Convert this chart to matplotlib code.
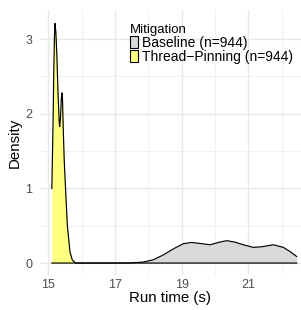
import matplotlib
matplotlib.use("Agg")
import matplotlib.pyplot as plt
from matplotlib.patches import Patch
import numpy as np

plt.rcParams['font.family'] = ['Liberation Sans', 'DejaVu Sans']

# density curves (run time in s, density)
pin_x = [15.10, 15.13, 15.16, 15.18, 15.195, 15.22, 15.25, 15.285, 15.32, 15.336,
         15.36, 15.385, 15.405, 15.42, 15.445, 15.47, 15.50, 15.565, 15.645,
         15.715, 15.82, 22.45]
pin_y = [1.00, 1.70, 2.60, 3.05, 3.21, 3.10, 2.80, 2.30, 1.90, 1.83,
         1.95, 2.20, 2.28, 2.20, 1.78, 1.40, 1.11, 0.51, 0.15,
         0.04, 0.00, 0.00]

base_x = [15.10, 17.10, 17.15, 17.20, 17.45, 17.85, 18.15, 18.45, 18.75, 19.05,
          19.30, 19.60, 19.85, 20.10, 20.35, 20.60, 20.85, 21.15, 21.40,
          21.75, 22.05, 22.25, 22.45]
base_y = [0.000, 0.000, 0.006, 0.000, 0.002, 0.013, 0.044, 0.110, 0.190, 0.260,
          0.276, 0.260, 0.245, 0.276, 0.300, 0.280, 0.245, 0.210, 0.218,
          0.245, 0.210, 0.155, 0.088]

labels = ["Baseline (n=944)", "Thread\u2212Pinning (n=944)"]
fills = ["#d9d9d9", "#ffff80"]

fig = plt.figure(figsize=(3.01, 3.10), dpi=100)
ax = fig.add_axes([39.5 / 301, 1 - 275 / 310, 1 - 39.5 / 301, 265 / 310])

for xs, ys, col in [(base_x, base_y, fills[0]), (pin_x, pin_y, fills[1])]:
    ax.fill_between(xs, 0, ys, color=col, lw=0, zorder=2)
    ax.plot(xs, ys, color="black", lw=0.85, zorder=3)

ax.set_xlim(14.73, 22.58)
ax.set_ylim(-0.16, 3.39)
ax.set_xticks([15, 17, 19, 21])
ax.set_xticks([16, 18, 20, 22], minor=True)
ax.set_yticks([0, 1, 2, 3])
ax.set_yticks([0.5, 1.5, 2.5], minor=True)
ax.grid(True, which="major", color="#e8e8e8", lw=1.0, zorder=0)
ax.grid(True, which="minor", color="#efefef", lw=0.6, zorder=0)
ax.set_axisbelow(True)
for s in ax.spines.values():
    s.set_visible(False)
ax.tick_params(which="both", length=0, labelsize=9, labelcolor="#4d4d4d")
ax.tick_params(axis="x", pad=3)
ax.tick_params(axis="y", pad=5)
ax.set_xlabel("Run time (s)", fontsize=10.8, labelpad=0)
ax.set_ylabel("Density", fontsize=10.8, labelpad=3)

handles = [Patch(facecolor=c, edgecolor="black", lw=0.8) for c in fills]
leg = fig.legend(handles, labels, title="Mitigation", loc="upper left",
                 bbox_to_anchor=(130 / 301, 1 - 23.5 / 310), frameon=False,
                 fontsize=10, title_fontsize=9.5, handlelength=0.6,
                 handleheight=0.95, handletextpad=0.3, labelspacing=0.0,
                 borderpad=0, borderaxespad=0, alignment="left")

fig.savefig("out.png", dpi=100)
